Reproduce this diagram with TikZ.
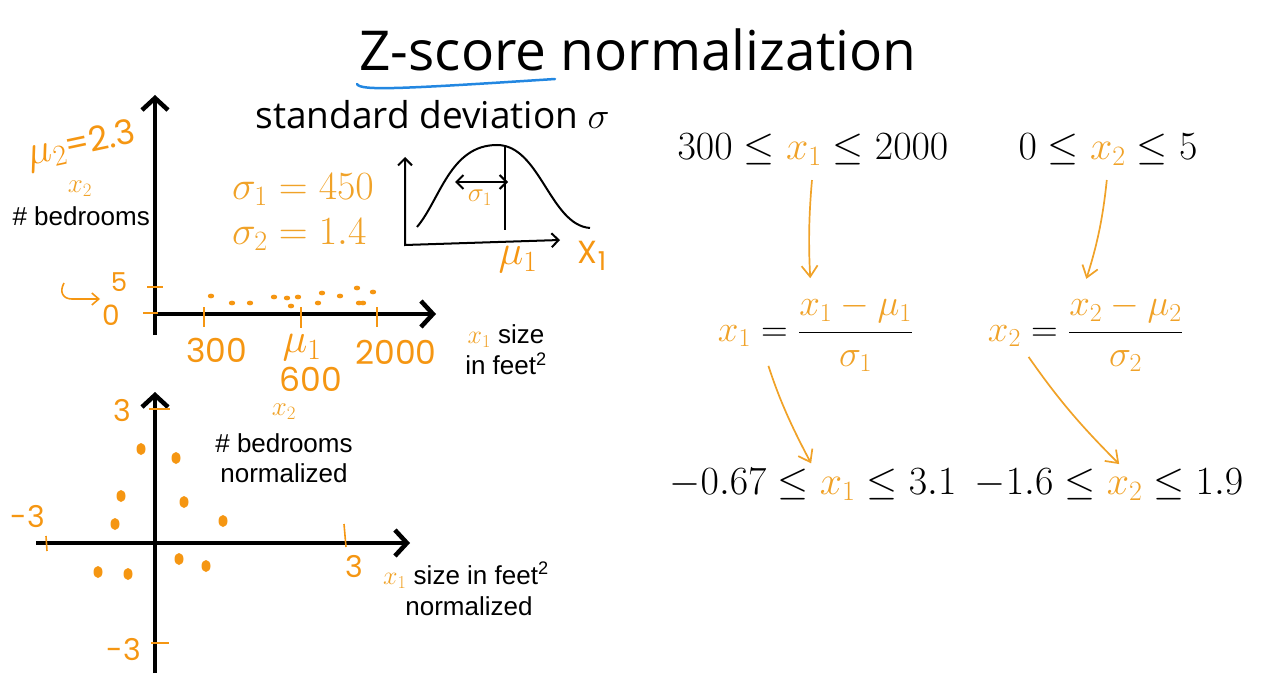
\documentclass[tikz,border=0pt]{standalone}
\usepackage{fix-cm}
\usepackage{fontspec}
\setmainfont{Open Sans}
\newfontfamily\labelfont{Liberation Sans}
\newfontfamily\handfont{Poppins}
\usetikzlibrary{arrows.meta,positioning}
\definecolor{zorange}{RGB}{240,162,40}
\definecolor{zhand}{RGB}{245,150,18}
\definecolor{zblue}{RGB}{35,135,225}
\newcommand{\handmu}[1]{{\fontsize{42}{44}\selectfont$\mu_{#1}$}}

\begin{document}
\begin{tikzpicture}[x=1pt,y=-1pt,
  axis/.style={line width=4.5pt,-{Straight Barb[length=12pt,width=26pt]}},
  thinaxis/.style={line width=2pt,{Straight Barb[length=7pt,width=14pt]}-{Straight Barb[length=7pt,width=14pt]}},
  tickmark/.style={zhand,line width=1.6pt},
  datadot/.style={fill=zhand,draw=none},
  handtext/.style={text=zhand,font=\handfont\fontsize{33}{35}\selectfont,inner sep=1pt},
  labeltext/.style={font=\labelfont\fontsize{26}{30}\selectfont,inner sep=1pt,align=center},
  mathtxt/.style={font=\fontsize{40}{44}\selectfont,inner sep=2pt},
  fractxt/.style={font=\fontsize{37}{40}\selectfont,inner sep=2pt},
  smallmath/.style={text=zorange,font=\fontsize{27}{29}\selectfont,inner sep=1pt},
  orangearrow/.style={zorange,line width=1.7pt,-{Straight Barb[length=11pt,width=16pt]}}]
\useasboundingbox (0,0) rectangle (1272,679);
%\draw[help lines,step=50] (0,0) grid (1272,679);

%% Title
\node[font=\fontsize{55}{60}\selectfont] (title) at (638,50) {Z-score normalization};
\draw[zblue,line width=2.5pt,line cap=round] (357,84) .. controls (360,91) and (400,89) .. (555,79);

%% Top plot: raw features
\draw[axis] (155,335) -- (155,95);
\draw[axis] (155,314) -- (436,314);
\draw[tickmark] (204,307) -- (204,327);
\draw[tickmark] (301,307) -- (301,328);
\draw[tickmark] (377,307) -- (377,327);
\draw[tickmark] (147,287) -- (163,287);
\draw[tickmark] (143,313) -- (158,313);
\foreach \px/\py in {211/296,232/303,250/303,274/297,287/298,298/297,291/306,
    318/303,322/293,340/296,357/288,373/292,363/303,359/303}
  \fill[datadot] (\px,\py) ellipse[x radius=3.2pt,y radius=2.4pt];
\node[handtext,font=\handfont\fontsize{26}{28}\selectfont] (five) at (119,282) {5};
\node[handtext,font=\handfont\fontsize{28}{30}\selectfont] (zero) at (111,315) {0};
\draw[tickmark,-{Straight Barb[length=7pt,width=12pt]}] (64,283) .. controls (59,292) and (63,299) .. (72,299) -- (100,299);
\node[handtext,rotate=12,font=\handfont\fontsize{34}{36}\selectfont] (mu2) at (82,146) {\handmu{2}=2.3};
\node[smallmath] (xtwo) at (80,189) {$x_2$};
\node[labeltext,anchor=east] (bedrooms) at (151,216) {\# bedrooms};
\node[handtext] (t300) at (217,350) {300};
\node[handtext] (tmu1) at (302,348) {\handmu{1}};
\node[handtext] (t2000) at (396,352) {2000};
\node[handtext] (t600) at (311,379) {600};
\node[labeltext] (size) at (506,336) {\textcolor{zorange}{$x_1$} size};
\node[labeltext] (feet) at (506,364) {in feet\textsuperscript{2}};
\node[mathtxt,text=zorange,anchor=west] (sig1) at (230,190) {$\sigma_1 = 450$};
\node[mathtxt,text=zorange,anchor=west] (sig2) at (230,235) {$\sigma_2 = 1.4$};

%% Bell curve
\node[font=\fontsize{37}{40}\selectfont,anchor=west] (stdev) at (252,115) {standard deviation $\sigma$};
\draw[thinaxis] (405,157) -- (405,245) -- (560,240);
\draw[line width=2pt] (417,227) .. controls (440,200) and (450,145) .. (497,145)
  .. controls (540,145) and (550,225) .. (590,228);
\draw[line width=2pt] (505,147) -- (505,230);
\draw[thinaxis] (455,182) -- (508,182);
\node[smallmath] (bsig) at (480,198) {$\sigma_1$};
\node[handtext] (bmu) at (518,260) {\handmu{1}};
\node[handtext,font=\handfont\fontsize{32}{34}\selectfont] (bx) at (592,256) {X\raisebox{-7pt}{\fontsize{26}{26}\selectfont 1}};

%% Bottom plot: normalized features
\draw[axis] (155,673) -- (155,392);
\draw[axis] (36,543) -- (410,543);
\draw[tickmark] (149,409) -- (170,409);
\draw[tickmark] (46,536) -- (47,551);
\draw[tickmark] (344,524) -- (346,547);
\draw[tickmark] (151,643) -- (169,643);
\node[handtext,font=\handfont\fontsize{30}{32}\selectfont] (ntop) at (122,411) {3};
\node[handtext,font=\handfont\fontsize{30}{32}\selectfont] (nleft) at (28,517) {-3};
\node[handtext,font=\handfont\fontsize{30}{32}\selectfont] (nright) at (354,567) {3};
\node[handtext,font=\handfont\fontsize{30}{32}\selectfont] (nbottom) at (124,650) {-3};
\foreach \px/\py in {141/449,176/458,121/496,184/502,115/524,223/521,
    98/572,128/574,179/559,206/566}
  \fill[datadot] (\px,\py) ellipse[x radius=4.5pt,y radius=6pt];
\node[smallmath] (nxtwo) at (284,412) {$x_2$};
\node[labeltext] (nbed) at (284,458) {\# bedrooms\\normalized};
\node[labeltext,anchor=west] (nsize) at (382,575) {\textcolor{zorange}{$x_1$} size in feet\textsuperscript{2}};
\node[labeltext] (nnorm) at (469,606) {normalized};

%% Ranges and formulas
\node[mathtxt] (range1) at (813,150) {$300 \leq \textcolor{zorange}{x_1} \leq 2000$};
\node[mathtxt] (range2) at (1108,150) {$0 \leq \textcolor{zorange}{x_2} \leq 5$};
\node[fractxt,anchor=base east] (lhs1) at (790,341) {$\textcolor{zorange}{x_1} =$};
\node[fractxt,anchor=base west] (rhs1) at ([xshift=6pt]lhs1.base east)
  {$\displaystyle\frac{\textcolor{zorange}{x_1 - \mu_1}}{\textcolor{zorange}{\sigma_1}}$};
\node[fractxt,anchor=base east] (lhs2) at (1060,341) {$\textcolor{zorange}{x_2} =$};
\node[fractxt,anchor=base west] (rhs2) at ([xshift=6pt]lhs2.base east)
  {$\displaystyle\frac{\textcolor{zorange}{x_2 - \mu_2}}{\textcolor{zorange}{\sigma_2}}$};
\node[mathtxt] (range3) at (813,485) {$-0.67 \leq \textcolor{zorange}{x_1} \leq 3.1$};
\node[mathtxt] (range4) at (1109,485) {$-1.6 \leq \textcolor{zorange}{x_2} \leq 1.9$};

\draw[orangearrow,shorten <=12pt,shorten >=14pt] (range1.south) to[bend right=4] ([xshift=15pt]rhs1.north west);
\draw[orangearrow,shorten <=12pt,shorten >=14pt] (range2.south) to[bend left=6] ([xshift=16pt]rhs2.north west);
\draw[orangearrow,shorten <=18pt,shorten >=4pt] ([xshift=10pt]lhs1.south) to[bend right=5] (range3.north);
\draw[orangearrow,shorten <=10pt,shorten >=4pt] (lhs2.south) to[bend right=5] ([xshift=13pt]range4.north);
\end{tikzpicture}
\end{document}
